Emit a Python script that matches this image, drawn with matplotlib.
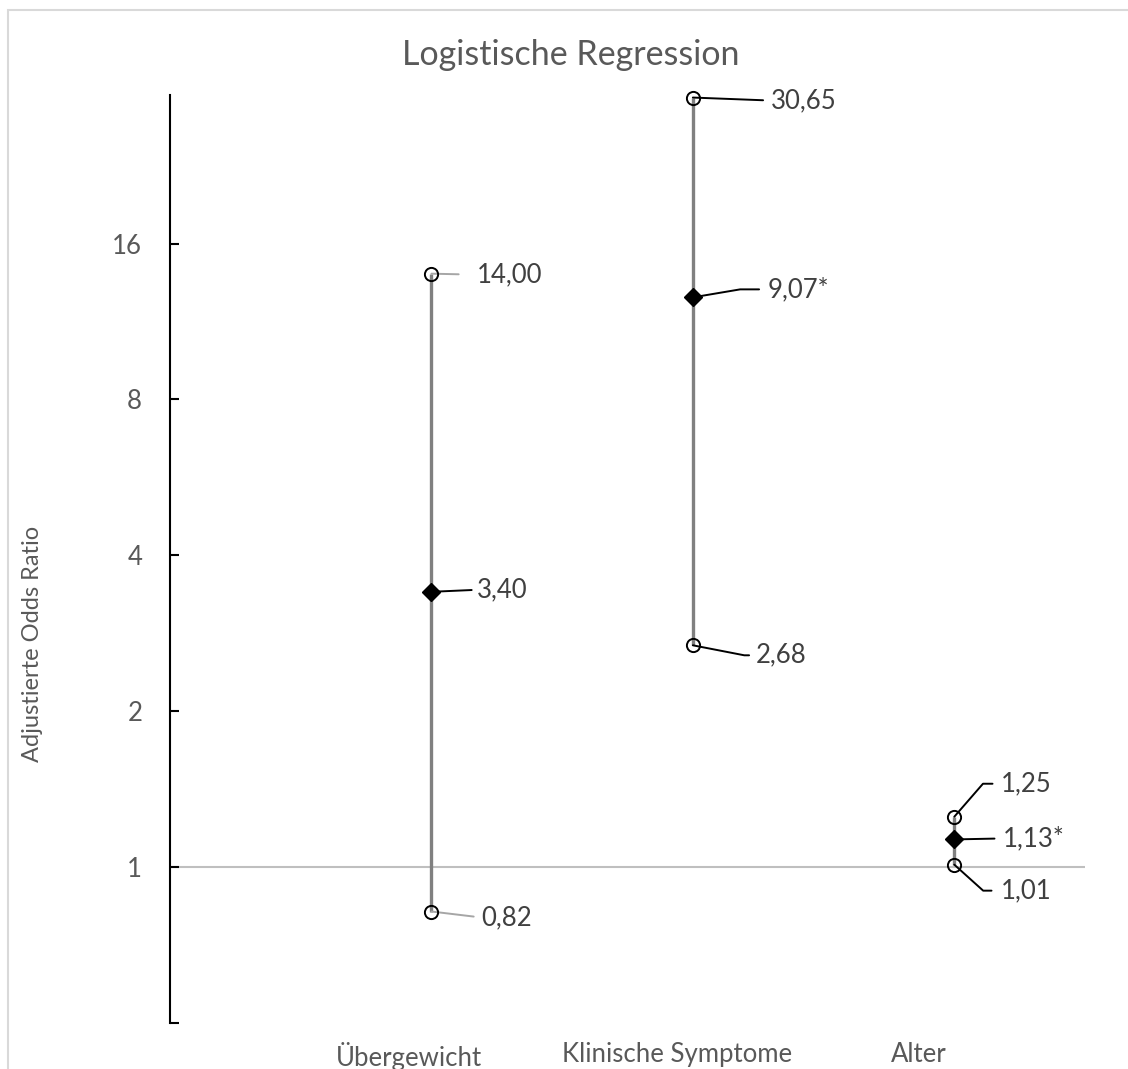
import matplotlib
matplotlib.use("Agg")
import matplotlib.pyplot as plt
from matplotlib.patches import Rectangle
from matplotlib.ticker import NullLocator

# ---------------- data ----------------
categories = ["Übergewicht", "Klinische Symptome", "Alter"]
ci_lower = [0.82, 2.68, 1.01]
odds_ratio = [3.40, 12.6, 1.13]      # plotted position
ci_upper = [14.00, 30.65, 1.25]
lower_labels = ["0,82", "2,68", "1,01"]
or_labels = ["3,40", "9,07*", "1,13*"]
upper_labels = ["14,00", "30,65", "1,25"]
ytick_values = [0.5, 1, 2, 4, 8, 16]
ytick_labels = ["", "1", "2", "4", "8", "16"]

# ---------------- style ----------------
FONT = ["Lato", "DejaVu Sans"]
plt.rcParams["font.family"] = FONT
GREY_TXT = "#595959"
LBL_TXT = "#404040"

W, H = 1128, 1069
fig = plt.figure(figsize=(W / 100, H / 100), dpi=100)
ax = fig.add_axes([170 / W, 1 - 1022.7 / H, (1085 - 170) / W, (1022.7 - 95) / H])

xs = [1, 2, 3]

ax.set_yscale("log", base=2)
ax.set_ylim(0.5, 31.0)
ax.set_xlim(0, 3.5)

# reference line at 1
ax.axhline(1, color="#bfbfbf", lw=1.5, zorder=1)

# CI lines
ax.vlines(xs, ci_lower, ci_upper, color="#808080", lw=2.4, zorder=2, clip_on=False)

# markers
ax.plot(xs, ci_lower, "o", mfc="none", mec="black", ms=9.5, mew=1.4, ls="none",
        zorder=5, clip_on=False)
ax.plot(xs, ci_upper, "o", mfc="none", mec="black", ms=9.5, mew=1.4, ls="none",
        zorder=5, clip_on=False)
ax.plot(xs, odds_ratio, "D", color="black", ms=9.5, ls="none", zorder=6, clip_on=False)

# data labels with leader lines (offsets in pixels; angle of leader at marker)
PX = 72 / 100


def leader(x, y, text, dx, dy, angle, color, gap):
    cs = "arc3,rad=0" if angle is None else f"angle,angleA=0,angleB={angle},rad=0"
    ax.annotate(text, xy=(x, y), xytext=(dx * PX, dy * PX), textcoords="offset points",
                ha="left", va="center", fontsize=18.5, color=LBL_TXT, zorder=3,
                annotation_clip=False,
                arrowprops=dict(arrowstyle="-", color=color, lw=1.4,
                                shrinkA=max(gap - 3, 0) * PX, shrinkB=0,
                                relpos=(0, 0.5), connectionstyle=cs))


label_layout = {
    # (category index, kind): (dx, dy, angle, color, gap)
    (0, "up"): (45, -1, None, "#a6a6a6", 18),
    (0, "or"): (45, 2, None, "black", 5),
    (0, "lo"): (50, -6, None, "#a6a6a6", 8),
    (1, "up"): (78, -3, None, "black", 8),
    (1, "or"): (75, 8, 9.6, "black", 9),
    (1, "lo"): (63, -10, -11, "black", 7),
    (2, "up"): (47, 33, 49, "black", 9),
    (2, "or"): (49, 1, None, "black", 9),
    (2, "lo"): (47, -26, -42, "black", 10),
}

for i, x in enumerate(xs):
    for kind, val, txt in (("up", ci_upper[i], upper_labels[i]),
                           ("or", odds_ratio[i], or_labels[i]),
                           ("lo", ci_lower[i], lower_labels[i])):
        dx, dy, ang, col, gap = label_layout[(i, kind)]
        leader(x, val, txt, dx, dy, ang, col, gap)

# axes styling
for s in ("top", "right", "bottom"):
    ax.spines[s].set_visible(False)
ax.spines["left"].set_color("black")
ax.spines["left"].set_linewidth(1.5)

ax.set_yticks(ytick_values)
ax.set_yticklabels(ytick_labels)
ax.yaxis.set_minor_locator(NullLocator())
ax.tick_params(axis="y", direction="in", length=6.5, width=1.5, color="black",
               labelsize=18.5, labelcolor=GREY_TXT, pad=20)

label_offsets = [-0.085, -0.062, -0.135]
ax.set_xticks([x + o for x, o in zip(xs, label_offsets)])
ax.set_xticklabels(categories)
ax.tick_params(axis="x", length=0, labelsize=18.5, labelcolor=GREY_TXT, pad=14)

# title and y label
fig.text(571 / W, 1 - 55 / H, "Logistische Regression", ha="center", va="center",
         fontsize=24.5, color=GREY_TXT)
fig.text(33 / W, 1 - 644 / H, "Adjustierte Odds Ratio", ha="center", va="center",
         rotation=90, fontsize=17, color=GREY_TXT)

# chart border
fig.patches.append(Rectangle((8 / W, -0.05), 1.2, 1 - 10 / H + 0.05,
                             transform=fig.transFigure, fill=False,
                             edgecolor="#d9d9d9", lw=1.5))

fig.savefig("out.png", dpi=100)
